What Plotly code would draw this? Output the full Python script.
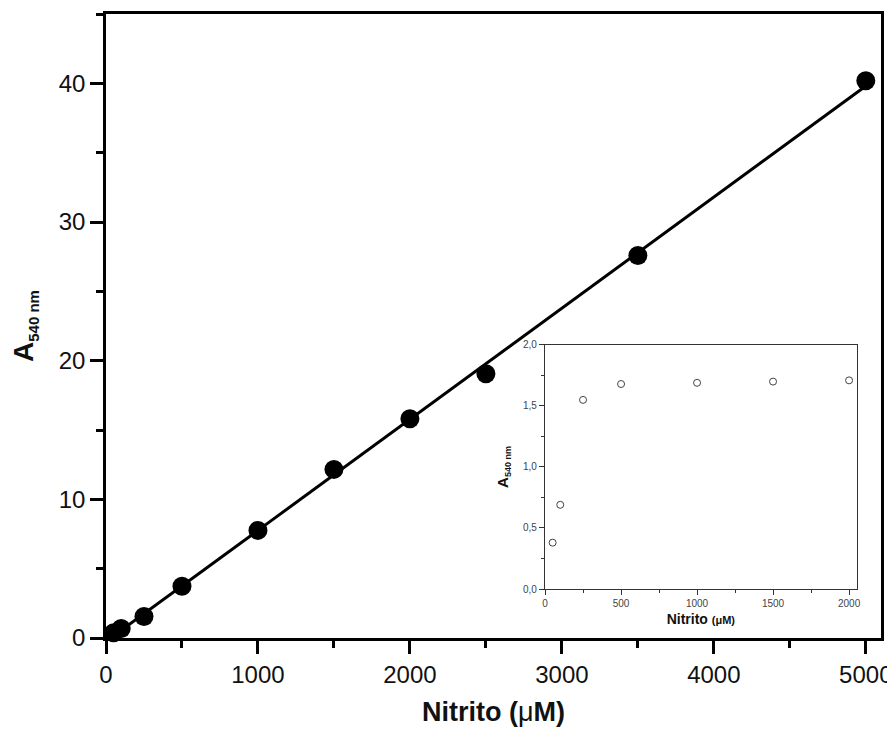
import numpy as np
import plotly.graph_objects as go

# ---- data ----
main_x = [50, 100, 250, 500, 1000, 1500, 2000, 2500, 3500, 5000]
main_y = [0.38, 0.69, 1.55, 3.73, 7.76, 12.16, 15.81, 19.05, 27.58, 40.19]

inset_x = [50, 100, 250, 500, 1000, 1500, 2000]
inset_y = [0.38, 0.69, 1.55, 1.68, 1.69, 1.70, 1.71]

main_xticks = [0, 1000, 2000, 3000, 4000, 5000]
main_xticklabels = ["0", "1000", "2000", "3000", "4000", "5000"]
main_yticks = [0, 10, 20, 30, 40]
main_yticklabels = ["0", "10", "20", "30", "40"]
inset_xticks = [0, 500, 1000, 1500, 2000]
inset_xticklabels = ["0", "500", "1000", "1500", "2000"]
inset_yticks = [0, 0.5, 1.0, 1.5, 2.0]
inset_yticklabels = ["0,0", "0,5", "1,0", "1,5", "2,0"]

# linear fit of the main data
slope, intercept = np.polyfit(main_x, main_y, 1)
fit_x = [0, max(main_x)]
fit_y = [intercept + slope * v for v in fit_x]

FONT = "Arial, Liberation Sans, sans-serif"

fig = go.Figure()
fig.add_trace(go.Scatter(x=fit_x, y=fit_y, mode="lines",
                         line=dict(color="black", width=3),
                         xaxis="x", yaxis="y", showlegend=False, hoverinfo="skip"))
fig.add_trace(go.Scatter(x=main_x, y=main_y, mode="markers",
                         marker=dict(color="black", size=19),
                         xaxis="x", yaxis="y", showlegend=False, cliponaxis=False))
fig.add_trace(go.Scatter(x=inset_x, y=inset_y, mode="markers",
                         marker=dict(color="white", size=7, symbol="circle",
                                     line=dict(color="#444444", width=1)),
                         xaxis="x2", yaxis="y2", showlegend=False, cliponaxis=False))

main_line = dict(showline=True, linecolor="black", linewidth=2.5, mirror=True,
                 showgrid=False, zeroline=False, automargin=False)
inset_line = dict(showline=True, linecolor="#333333", linewidth=1.2, mirror=True,
                  showgrid=False, zeroline=False, automargin=False)

fig.update_layout(
    width=895, height=731,
    margin=dict(l=98, r=22, t=6, b=101, autoexpand=False),
    paper_bgcolor="white", plot_bgcolor="white",
    font=dict(family=FONT, color="#111111"),
    xaxis=dict(domain=[0, 1], anchor="y", range=[0, 5100], **main_line,
               ticks="outside", ticklen=13, tickwidth=2.5, tickcolor="black",
               tickmode="array", tickvals=main_xticks, ticktext=main_xticklabels,
               tickfont=dict(size=24, color="#111111"),
               minor=dict(dtick=500, tick0=0, ticks="outside", ticklen=7,
                          tickwidth=2.5, tickcolor="black", showgrid=False),
               title=dict(text="<b>Nitrito (<span style='font-weight:normal'>μ</span>M)</b>",
                          font=dict(size=27, color="#111111"), standoff=16)),
    yaxis=dict(domain=[0, 1], anchor="x", range=[0, 45], **main_line,
               ticks="outside", ticklen=13, tickwidth=2.5, tickcolor="black",
               tickmode="array", tickvals=main_yticks, ticktext=main_yticklabels,
               tickfont=dict(size=24, color="#111111"),
               minor=dict(dtick=5, tick0=0, ticks="outside", ticklen=7,
                          tickwidth=2.5, tickcolor="black", showgrid=False),
               title=dict(text="<b>A<sub><span style='font-size:15px'>540 nm</span></sub></b>",
                          font=dict(size=28, color="#111111"), standoff=22)),
    xaxis3=dict(overlaying="x", side="top", anchor="y", range=[0, 5100],
                showline=False, showgrid=False, zeroline=False, automargin=False,
                ticks="inside", ticklen=13, tickwidth=2.5, tickcolor="black",
                tickmode="array", tickvals=main_xticks, showticklabels=False,
                minor=dict(dtick=500, tick0=0, ticks="inside", ticklen=7,
                           tickwidth=2.5, tickcolor="black", showgrid=False)),
    xaxis2=dict(domain=[0.5665, 0.9686], anchor="y2", range=[0, 2050], **inset_line,
                ticks="outside", ticklen=5, tickwidth=1, tickcolor="#333333",
                tickmode="array", tickvals=inset_xticks, ticktext=inset_xticklabels,
                tickfont=dict(size=10, color="#444444"),
                minor=dict(dtick=250, tick0=0, ticks="outside", ticklen=3,
                           tickwidth=1, tickcolor="#333333", showgrid=False),
                title=dict(text="<b>Nitrito <span style='font-size:11px'>(μM)</span></b>",
                           font=dict(size=14, color="#111111"), standoff=6)),
    yaxis2=dict(domain=[0.0785, 0.4696], anchor="x2", range=[0, 2], **inset_line,
                ticks="outside", ticklen=5, tickwidth=1, tickcolor="#333333",
                tickmode="array", tickvals=inset_yticks, ticktext=inset_yticklabels,
                tickfont=dict(size=10, color="#444444"),
                minor=dict(dtick=0.25, tick0=0, ticks="outside", ticklen=3,
                           tickwidth=1, tickcolor="#333333", showgrid=False),
                title=dict(text="<b>A<sub><span style='font-size:9px'>540 nm</span></sub></b>",
                           font=dict(size=15, color="#111111"), standoff=10)),
    xaxis4=dict(overlaying="x2", side="top", anchor="y2", range=[0, 2050],
                showline=False, showgrid=False, zeroline=False, automargin=False,
                ticks="inside", ticklen=5, tickwidth=1, tickcolor="#333333",
                tickmode="array", tickvals=inset_xticks, showticklabels=False,
                minor=dict(dtick=250, tick0=0, ticks="inside", ticklen=3,
                           tickwidth=1, tickcolor="#333333", showgrid=False)),
)

fig.write_html("out.html")
